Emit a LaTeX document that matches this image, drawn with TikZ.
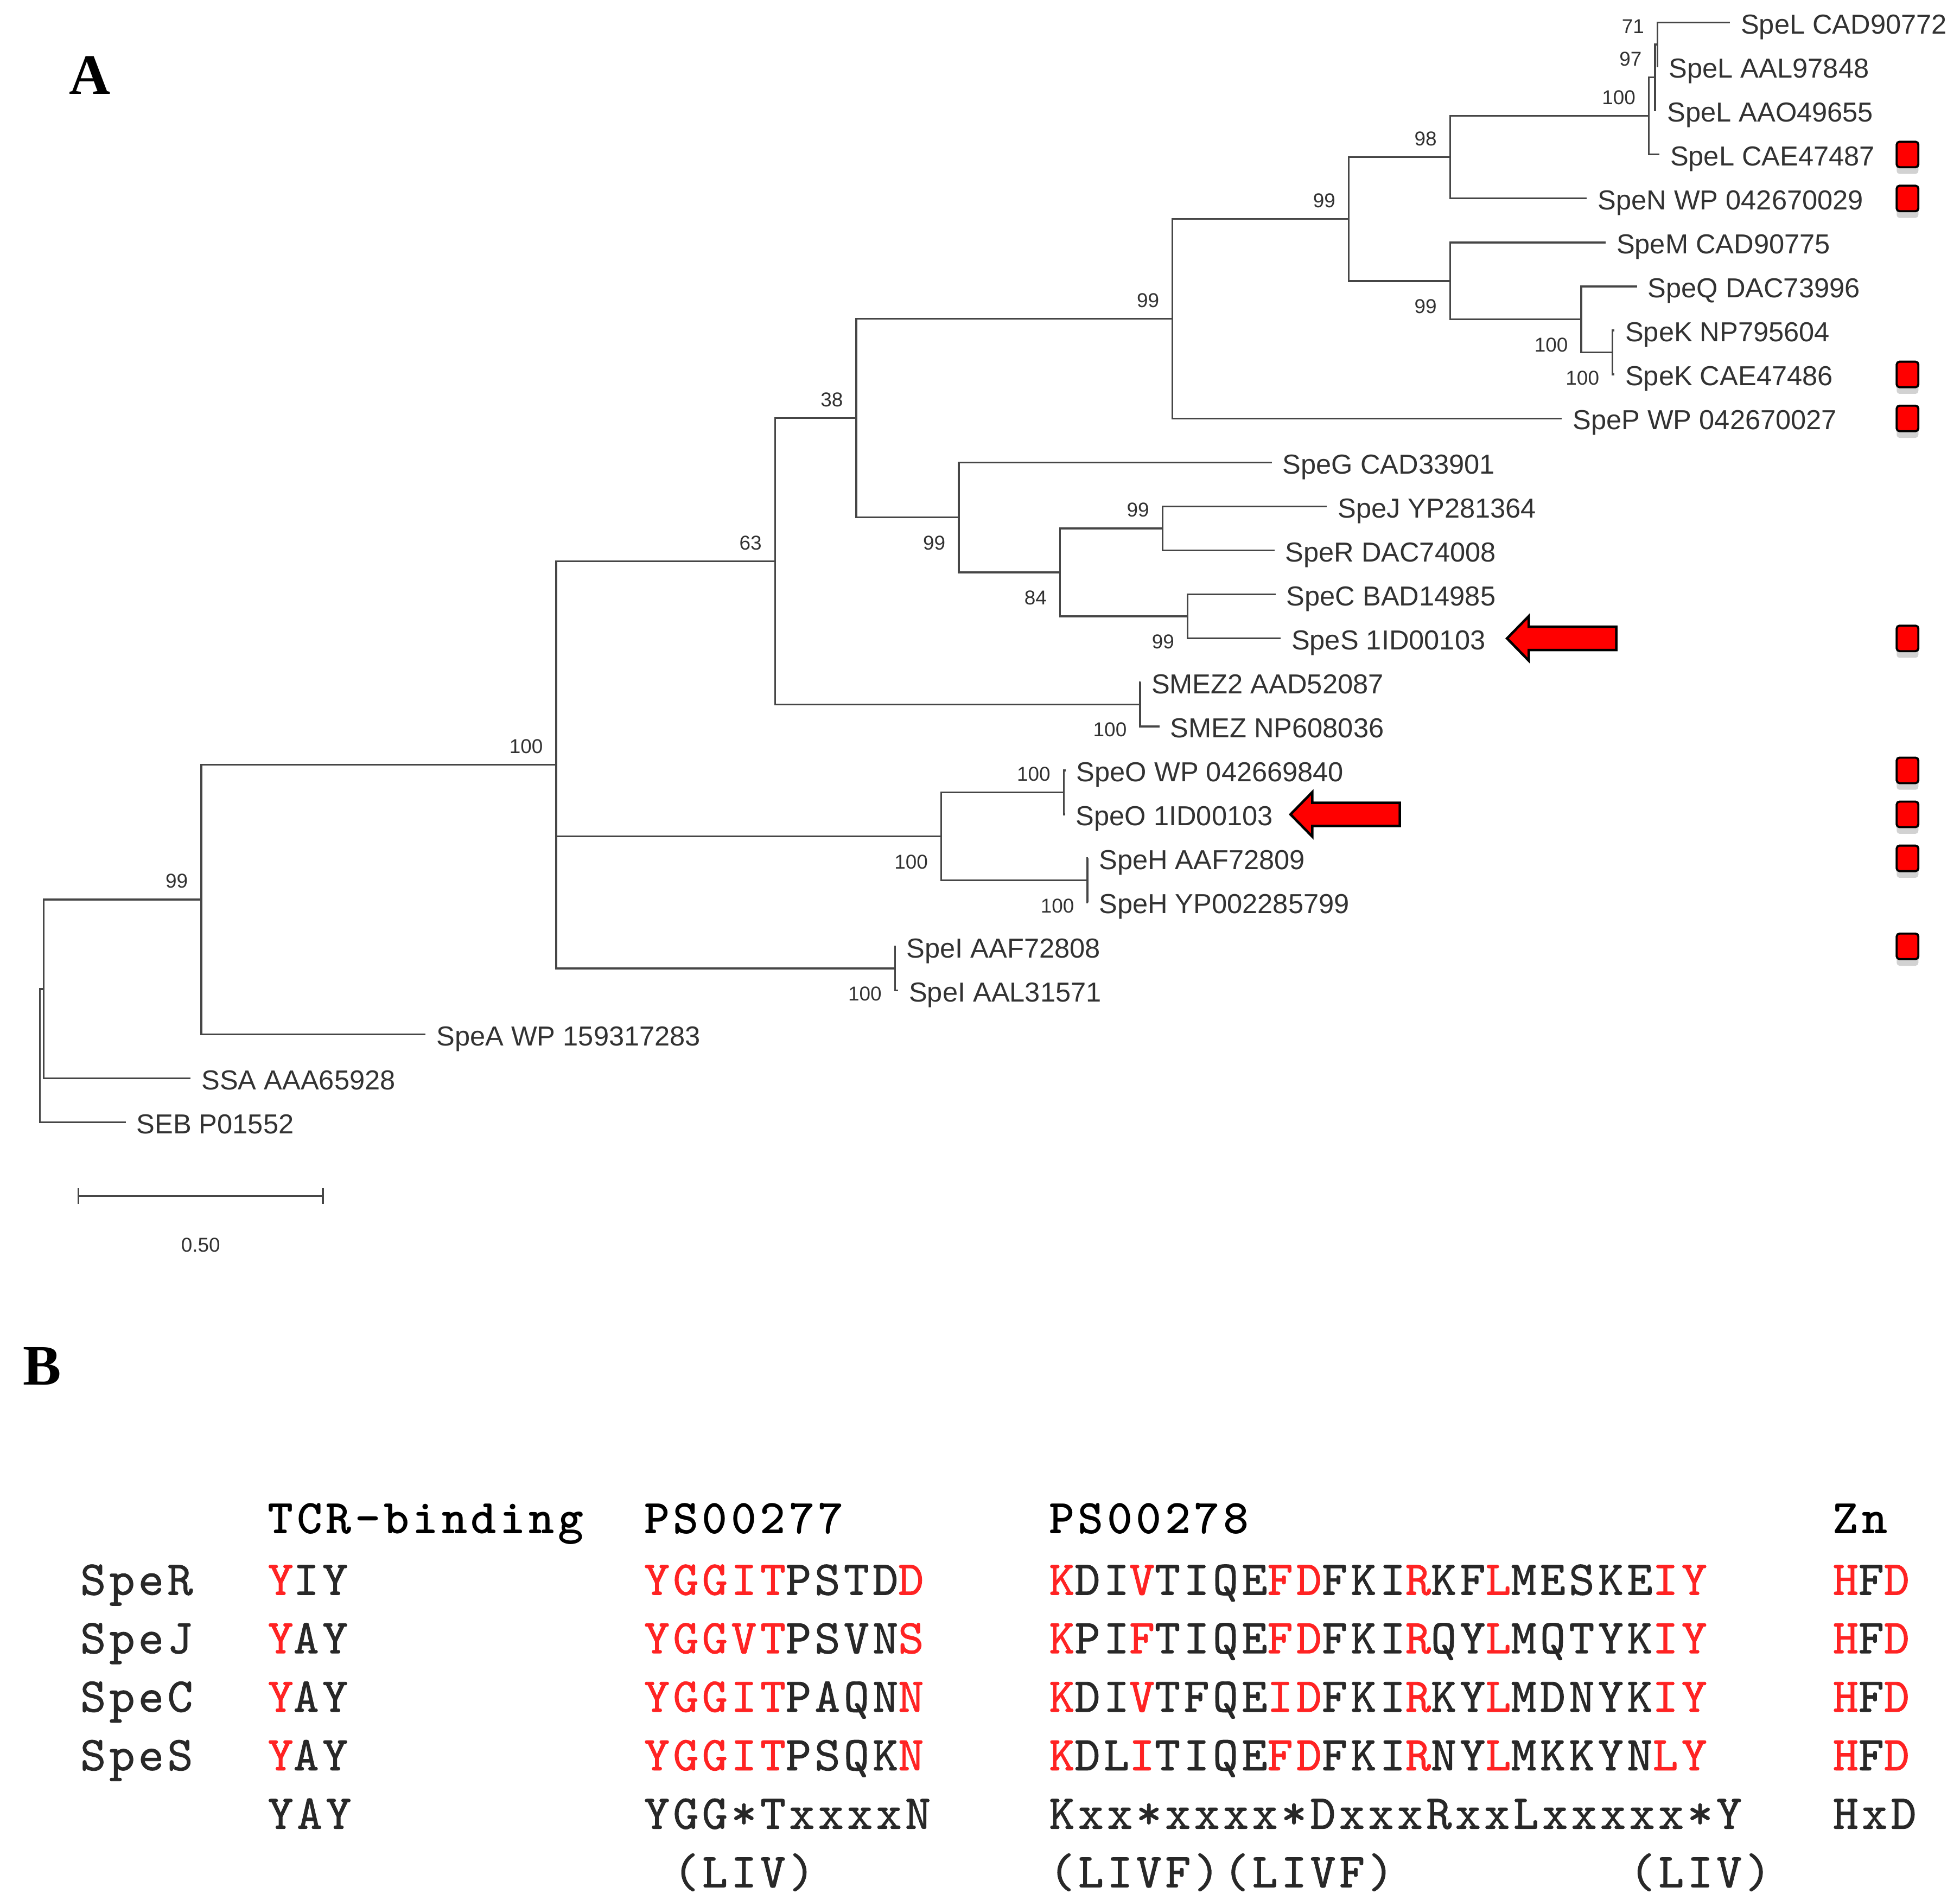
\documentclass[tikz,border=0pt]{standalone}
\usepackage{fontspec}
\setmainfont{Liberation Sans}
\newfontfamily\panelfont{Liberation Serif}
\newfontfamily\seqfont{lmmono10-regular.otf}[LetterSpace=7.15,FakeBold=1]
\newfontfamily\seqbold{lmmonolt10-bold.otf}[LetterSpace=7.15]
\usetikzlibrary{arrows.meta,shadows}
\definecolor{branchgray}{RGB}{70,70,70}
\definecolor{labgray}{RGB}{50,50,50}
\definecolor{seqblack}{RGB}{40,40,40}
\definecolor{motifred}{RGB}{255,35,35}
\newcommand{\mr}[1]{\textcolor{motifred}{#1}}

\begin{document}
\begin{tikzpicture}[x=0.23036mm,y=-0.23036mm,
	branch/.style={draw=branchgray,line width=0.95pt},
	leaf/.style={anchor=west,inner xsep=5.5pt,inner ysep=0pt,text height=11.8pt,text depth=0pt,
	text=labgray,font=\fontsize{14.4}{16}\selectfont},
	boot/.style={inner sep=0pt,text=labgray,font=\fontsize{10.5}{12}\selectfont},
	bsup/.style={boot,anchor=south east,xshift=-6.8pt,yshift=5.7pt},
	bsdn/.style={boot,anchor=north east,xshift=-6.8pt,yshift=-9.4pt},
	marker/.style={draw=black,line width=1.1pt,fill=red,rounded corners=1.5pt,inner sep=0pt,
	minimum width=0.4cm,minimum height=0.47cm,
	drop shadow={opacity=0.35,shadow xshift=0pt,shadow yshift=-3.5pt}},
	pointer/.style={draw=black,line width=1.3pt,fill=red,line join=miter},
	panel/.style={anchor=base west,inner sep=0pt,font=\panelfont\bfseries\fontsize{30}{32}\selectfont},
	seq/.style={anchor=base west,inner sep=0pt,text=seqblack,font=\seqfont\fontsize{25.5}{27}\selectfont},
	seqhead/.style={seq,text=black,font=\seqbold\fontsize{25.5}{27}\selectfont}]
\fill[white] (0,0) rectangle (1568,1520);

\node[panel] (panA) at (55,75.5) {A};
\node[panel] (panB) at (18,1108) {B};

\coordinate (root) at (32,844.6);
\coordinate (nSSA) at (35,791.3);
\coordinate (nSpeA) at (161,719.75);
\coordinate (n100) at (445,611.9);
\coordinate (n63) at (620,449);
\coordinate (n38) at (685,334.5);
\coordinate (nLP) at (938,255);
\coordinate (nLNMK) at (1079,175.3);
\coordinate (nLN98) at (1160,125.8);
\coordinate (nL100) at (1319,92.8);
\coordinate (nL97) at (1324,62);
\coordinate (nL71) at (1326,35.6);
\coordinate (nMQK) at (1160,224.8);
\coordinate (nKQ) at (1265,255.6);
\coordinate (nK) at (1290,282);
\coordinate (nGJRCS) at (767,414);
\coordinate (nJRCS) at (848,458);
\coordinate (nJR) at (930,422.8);
\coordinate (nCS) at (950,493.2);
\coordinate (nSmez) at (912,563.6);
\coordinate (nOH) at (753,669.2);
\coordinate (nO) at (851,634);
\coordinate (nH) at (870,704.4);
\coordinate (nI) at (716,774.8);

\node[leaf] (speLa) at (1384,18) {SpeL CAD90772};
\node[leaf] (speLb) at (1326.5,53.2) {SpeL AAL97848};
\node[leaf] (speLc) at (1325,88.4) {SpeL AAO49655};
\node[leaf] (speLd) at (1327.5,123.6) {SpeL CAE47487};
\node[leaf] (speN) at (1269.5,158.8) {SpeN WP 042670029};
\node[leaf] (speM) at (1284.5,194) {SpeM CAD90775};
\node[leaf] (speQ) at (1309.5,229.2) {SpeQ DAC73996};
\node[leaf] (speKa) at (1291.5,264.4) {SpeK NP795604};
\node[leaf] (speKb) at (1291.5,299.6) {SpeK CAE47486};
\node[leaf] (speP) at (1249.5,334.8) {SpeP WP 042670027};
\node[leaf] (speG) at (1017.5,370) {SpeG CAD33901};
\node[leaf] (speJ) at (1061.5,405.2) {SpeJ YP281364};
\node[leaf] (speR) at (1019.5,440.4) {SpeR DAC74008};
\node[leaf] (speC) at (1020.5,475.6) {SpeC BAD14985};
\node[leaf] (speS) at (1024.5,510.8) {SpeS 1ID00103};
\node[leaf] (smez2) at (912.5,546) {SMEZ2 AAD52087};
\node[leaf] (smez) at (927.5,581.2) {SMEZ NP608036};
\node[leaf] (speOa) at (852.5,616.4) {SpeO WP 042669840};
\node[leaf] (speOb) at (852,651.6) {SpeO 1ID00103};
\node[leaf] (speHa) at (870.5,686.8) {SpeH AAF72809};
\node[leaf] (speHb) at (870.5,722) {SpeH YP002285799};
\node[leaf] (speIa) at (716.5,757.2) {SpeI AAF72808};
\node[leaf] (speIb) at (718.5,792.4) {SpeI AAL31571};
\node[leaf] (speA) at (340.5,827.6) {SpeA WP 159317283};
\node[leaf] (ssa) at (152.5,862.8) {SSA AAA65928};
\node[leaf] (seb) at (100.5,898) {SEB P01552};

\draw[branch] (nL71) |- (speLa.west) (nL71) |- (speLb.west);
\draw[branch] (nL97) |- (nL71) (nL97) |- (speLc.west);
\draw[branch] (nL100) |- (nL97) (nL100) |- (speLd.west);
\draw[branch] (nLN98) |- (nL100) (nLN98) |- (speN.west);
\draw[branch] (nK) |- (speKa.west) (nK) |- (speKb.west);
\draw[branch] (nKQ) |- (speQ.west) (nKQ) |- (nK);
\draw[branch] (nMQK) |- (speM.west) (nMQK) |- (nKQ);
\draw[branch] (nLNMK) |- (nLN98) (nLNMK) |- (nMQK);
\draw[branch] (nLP) |- (nLNMK) (nLP) |- (speP.west);
\draw[branch] (nJR) |- (speJ.west) (nJR) |- (speR.west);
\draw[branch] (nCS) |- (speC.west) (nCS) |- (speS.west);
\draw[branch] (nJRCS) |- (nJR) (nJRCS) |- (nCS);
\draw[branch] (nGJRCS) |- (speG.west) (nGJRCS) |- (nJRCS);
\draw[branch] (n38) |- (nLP) (n38) |- (nGJRCS);
\draw[branch] (nSmez) |- (smez2.west) (nSmez) |- (smez.west);
\draw[branch] (n63) |- (n38) (n63) |- (nSmez);
\draw[branch] (nO) |- (speOa.west) (nO) |- (speOb.west);
\draw[branch] (nH) |- (speHa.west) (nH) |- (speHb.west);
\draw[branch] (nOH) |- (nO) (nOH) |- (nH);
\draw[branch] (nI) |- (speIa.west) (nI) |- (speIb.west);
\draw[branch] (n100) |- (n63) (n100) |- (nOH) (n100) |- (nI);
\draw[branch] (nSpeA) |- (n100) (nSpeA) |- (speA.west);
\draw[branch] (nSSA) |- (nSpeA) (nSSA) |- (ssa.west);
\draw[branch] (root) |- (nSSA) (root) |- (seb.west);

\node[bsup] (bsL71) at (nL71) {71};
\node[bsup] (bsL97) at (nL97) {97};
\node[bsup] (bsL100) at (nL100) {100};
\node[bsup] (bsLN98) at (nLN98) {98};
\node[bsup] (bsLNMK) at (nLNMK) {99};
\node[bsdn] (bsMQK) at (nMQK) {99};
\node[bsdn] (bsKQ) at (nKQ) {100};
\node[bsdn] (bsK) at (nK) {100};
\node[bsup] (bsLP) at (nLP) {99};
\node[bsup] (bs38) at (n38) {38};
\node[bsdn] (bsGJRCS) at (nGJRCS) {99};
\node[bsdn] (bsJRCS) at (nJRCS) {84};
\node[bsup] (bsJR) at (nJR) {99};
\node[bsdn] (bsCS) at (nCS) {99};
\node[bsdn] (bsSmez) at (nSmez) {100};
\node[bsup] (bs63) at (n63) {63};
\node[bsup] (bsO) at (nO) {100};
\node[bsdn] (bsOH) at (nOH) {100};
\node[bsdn] (bsH) at (nH) {100};
\node[bsdn] (bsI) at (nI) {100};
\node[bsup] (bs100) at (n100) {100};
\node[bsup] (bsSpeA) at (nSpeA) {99};

\node[marker] (mkLd) at (1526,123.6) {};
\node[marker] (mkN) at (1526,158.8) {};
\node[marker] (mkKb) at (1526,299.6) {};
\node[marker] (mkP) at (1526,334.8) {};
\node[marker] (mkS) at (1526,510.8) {};
\node[marker] (mkOa) at (1526,616.4) {};
\node[marker] (mkOb) at (1526,651.6) {};
\node[marker] (mkHa) at (1526,686.8) {};
\node[marker] (mkIa) at (1526,757.2) {};

\coordinate (tipS) at (1205.6,510.8);
\coordinate (tipO) at (1032.4,651.6);
\draw[pointer] (tipS) -- ++(17.4,-17.8) -- ++(0,8.5) -- ++(70,0) -- ++(0,18.6) -- ++(-70,0) -- ++(0,8.5) -- cycle;
\draw[pointer] (tipO) -- ++(17.4,-17.8) -- ++(0,8.5) -- ++(70,0) -- ++(0,18.6) -- ++(-70,0) -- ++(0,8.5) -- cycle;

\coordinate (sbL) at (62,957);
\coordinate (sbR) at (259,957);
\draw[branch,{Bar[width=8.5pt]}-{Bar[width=8.5pt]}] (sbL) -- (sbR);
\node[boot] (sbLab) at (160.5,996) {0.50};

\node[seqhead] (hTcr) at (214,1227) {TCR-binding};
\node[seqhead] (hPsa) at (515,1227) {PS00277};
\node[seqhead] (hPsb) at (839,1227) {PS00278};
\node[seqhead] (hZn) at (1466,1227) {Zn};

\node[seq] (rowR) at (64,1276) {SpeR};
\node[seq] (rowRt) at (214,1276) {\mr{Y}IY};
\node[seq] (rowRa) at (515,1276) {\mr{YGGIT}PSTD\mr{D}};
\node[seq] (rowRb) at (839,1276) {\mr{K}DI\mr{V}TIQE\mr{FD}FKI\mr{R}KF\mr{L}MESKE\mr{IY}};
\node[seq] (rowRz) at (1466,1276) {\mr{H}F\mr{D}};

\node[seq] (rowJ) at (64,1322.8) {SpeJ};
\node[seq] (rowJt) at (214,1322.8) {\mr{Y}AY};
\node[seq] (rowJa) at (515,1322.8) {\mr{YGGVT}PSVN\mr{S}};
\node[seq] (rowJb) at (839,1322.8) {\mr{K}PI\mr{F}TIQE\mr{FD}FKI\mr{R}QY\mr{L}MQTYK\mr{IY}};
\node[seq] (rowJz) at (1466,1322.8) {\mr{H}F\mr{D}};

\node[seq] (rowC) at (64,1369.6) {SpeC};
\node[seq] (rowCt) at (214,1369.6) {\mr{Y}AY};
\node[seq] (rowCa) at (515,1369.6) {\mr{YGGIT}PAQN\mr{N}};
\node[seq] (rowCb) at (839,1369.6) {\mr{K}DI\mr{V}TFQE\mr{ID}FKI\mr{R}KY\mr{L}MDNYK\mr{IY}};
\node[seq] (rowCz) at (1466,1369.6) {\mr{H}F\mr{D}};

\node[seq] (rowS) at (64,1416.4) {SpeS};
\node[seq] (rowSt) at (214,1416.4) {\mr{Y}AY};
\node[seq] (rowSa) at (515,1416.4) {\mr{YGGIT}PSQK\mr{N}};
\node[seq] (rowSb) at (839,1416.4) {\mr{K}DL\mr{I}TIQE\mr{FD}FKI\mr{R}NY\mr{L}MKKYN\mr{LY}};
\node[seq] (rowSz) at (1466,1416.4) {\mr{H}F\mr{D}};

\node[seq] (consT) at (214,1463.2) {YAY};
\node[seq] (consA) at (515,1463.2) {YGG*TxxxxN};
\node[seq] (consB) at (839,1463.2) {Kxx*xxxx*DxxxRxxLxxxxx*Y};
\node[seq] (consZ) at (1466,1463.2) {HxD};

\node[seq] (altA) at (538.2,1510) {(LIV)};
\node[seq] (altB) at (839,1510) {(LIVF)(LIVF)};
\node[seq] (altC) at (1303.2,1510) {(LIV)};
\end{tikzpicture}
\end{document}
